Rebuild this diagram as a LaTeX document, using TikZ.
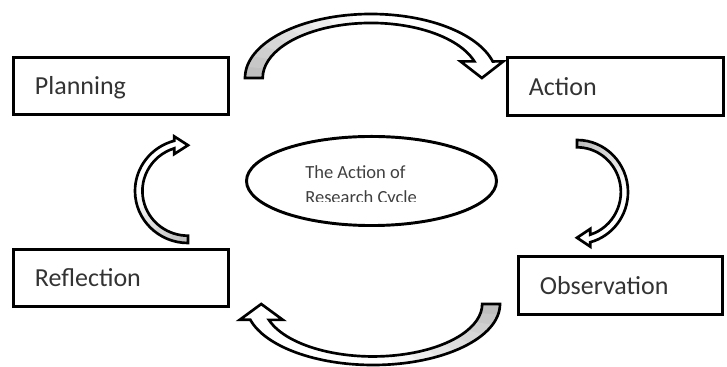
\documentclass[tikz,border=0pt]{standalone}
\usepackage{fontspec}
\setmainfont{Carlito}
\usetikzlibrary{shapes.geometric}
\newcommand{\stagefont}{\fontsize{19.5}{23}\selectfont}
\newcommand{\cyclefont}{\fontsize{13.9}{18.75}\selectfont}
\tikzset{
  stage/.style={draw, line width=2.4pt, minimum height=43pt, text width=#1,
    text height=13pt, text depth=0pt,
    align=left, inner xsep=16pt, font=\stagefont, text=black!80, anchor=west},
  cyclering/.style={draw, ellipse, line width=2.2pt, minimum width=187.5pt, minimum height=66.8pt},
  cyclelabel/.style={anchor=base west, inner sep=0pt, align=left, font=\cyclefont, text=black!75},
  % curved block arrow: tail at (-1,0), tip at (0.88,0); scaled and turned into place
  bentarrow/.pic={
    \def\bentoutline{(-1,0) arc[start angle=180, end angle=15, radius=1]
      -- (1.05,0.26) -- (0.88,0) -- (0.71,0.26) -- (0.82,0.26)
      arc[start angle=17.6, end angle=180, radius=0.86] -- cycle}
    \fill[white] \bentoutline;
    % tinted near the tail, fading out along the band
    \foreach \a/\g in {180/50, 170/44, 160/38, 150/32, 140/26, 130/20, 120/13, 110/6}{
      \fill[#1!\g] (\a:1) arc[start angle=\a, end angle=\a-11, radius=1]
        -- (\a-11:0.86) arc[start angle=\a-11, end angle=\a, radius=0.86] -- cycle;
    }
    \draw[line width=2pt, line join=miter] \bentoutline;
  },
}

\begin{document}
\begin{tikzpicture}[x=0.75pt, y=0.75pt]
  \useasboundingbox (0,0) rectangle (727,367);
  % ---------- the four stages
  \node[stage=129pt] (plan) at (12,281) {Planning};
  \node[stage=129.9pt] (act) at (506,280.5) {Action};
  \node[stage=120.9pt] (observe) at (517,81.5) {Observation};
  \node[stage=129pt] (reflect) at (12,89) {Reflection};
  % ---------- centre
  \node[cyclering] (cycle) at (371.5,186) {};
  \begin{scope}
    \clip (240,165.5) rectangle (500,230);
    \node[cyclelabel] (cyclename) at (305,163) {The Action of\\Research Cycle};
  \end{scope}
  % ---------- arrows round the cycle
  \pic[xscale=126, yscale=64] at (371,289) {bentarrow=gray};
  \pic[rotate=-90, xscale=52, yscale=51] at (577,175) {bentarrow=gray};
  \pic[rotate=180, xscale=127, yscale=61] at (373,63) {bentarrow=gray};
  \pic[rotate=270, xscale=-52, yscale=-53] at (188,176) {bentarrow=gray};
\end{tikzpicture}
\end{document}
